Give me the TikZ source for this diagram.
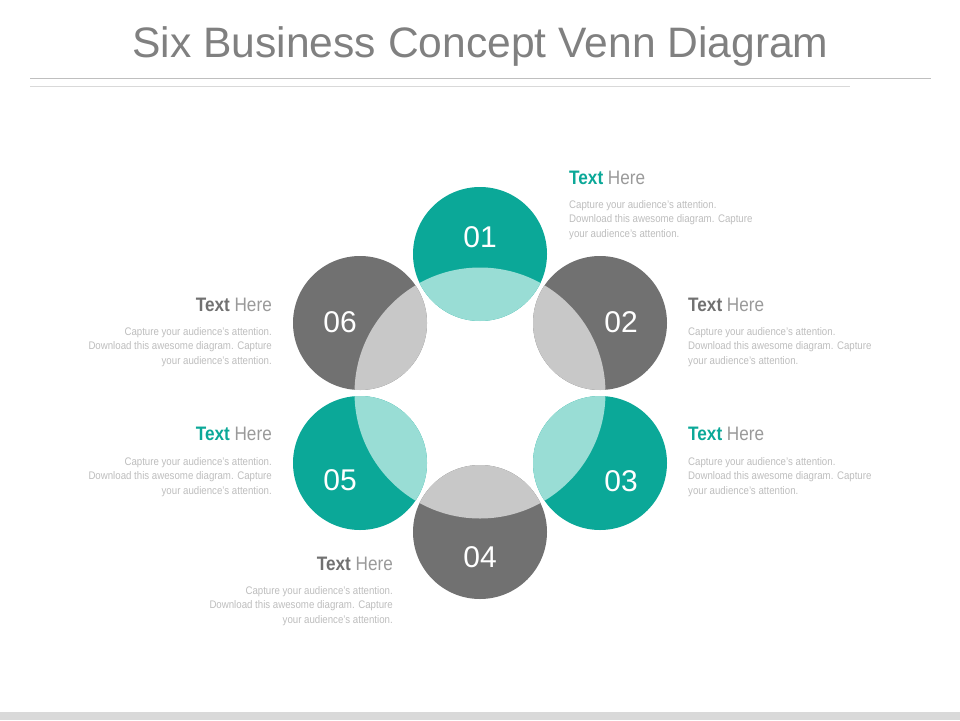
\documentclass[tikz,border=0pt]{standalone}
\usepackage{fontspec}
\setmainfont{Liberation Sans}
\definecolor{tealc}{HTML}{0BA898}
\definecolor{ltealc}{HTML}{99DDD5}
\definecolor{dgrayc}{HTML}{717171}
\definecolor{lgrayc}{HTML}{C8C8C8}
\definecolor{titlec}{HTML}{808080}
\definecolor{herec}{HTML}{9A9A9A}
\definecolor{bodyc}{HTML}{BDBDBD}
\definecolor{rule1c}{HTML}{BFBFBF}
\definecolor{rule2c}{HTML}{D9D9D9}
\tikzset{
  hd/.style={font=\fontsize{19.5}{22}\selectfont, text=herec, inner sep=0pt},
  bd/.style={font=\fontsize{11}{13}\selectfont, text=bodyc, inner sep=0pt},
  num/.style={font=\fontsize{30}{34}\selectfont, text=white, inner sep=0pt, anchor=base},
}
\newcommand{\narrow}[1]{\scalebox{0.88}[1]{#1}}
\newcommand{\tblock}[5]{%
  \node[hd, anchor=base #4] (#1h) at (#2,#3) {\narrow{{\bfseries\color{#5}Text} Here}};
  \node[bd, anchor=base #4] (#1a) at (#2,#3+24.3) {\narrow{Capture your audience's attention.}};
  \node[bd, anchor=base #4] (#1b) at (#2,#3+38.8) {\narrow{Download this awesome diagram. Capture}};
  \node[bd, anchor=base #4] (#1c) at (#2,#3+53.3) {\narrow{your audience's attention.}};
}
\begin{document}
\begin{tikzpicture}[x=1pt,y=-1pt]
\useasboundingbox (0,0) rectangle (960,720);
% title
\node[font=\fontsize{42.6}{50}\selectfont, text=titlec, anchor=base, inner sep=0pt] (title) at (480.5,57.7) {Six Business Concept Venn Diagram};
\draw[rule1c, line width=1pt] (30,78.3) -- (931,78.3);
\draw[rule2c, line width=1pt] (30,86) -- (850,86);
% bottom band
\fill[rule2c] (0,712) rectangle (960,720);
% circles
\foreach \x/\y/\dk/\lt in {480/254/tealc/ltealc, 600/323/dgrayc/lgrayc, 600/463/tealc/ltealc, 480/532/dgrayc/lgrayc, 360/463/tealc/ltealc, 360/323/dgrayc/lgrayc}{
  \begin{scope}
    \fill[\dk] (\x,\y) circle (67);
    \clip (\x,\y) circle (67);
    \fill[\lt] (480,393) circle (125.5);
  \end{scope}
}
% numbers
\node[num] (n01) at (480,247) {01};
\node[num] (n02) at (621,332) {02};
\node[num] (n03) at (621,491) {03};
\node[num] (n04) at (480,567) {04};
\node[num] (n05) at (340,490) {05};
\node[num] (n06) at (340,332) {06};
% text blocks
\tblock{t1}{569}{184}{west}{tealc}
\tblock{t2}{688}{311}{west}{dgrayc}
\tblock{t3}{688}{440.7}{west}{tealc}
\tblock{t4}{393}{570}{east}{dgrayc}
\tblock{t5}{272}{440.7}{east}{tealc}
\tblock{t6}{272}{311}{east}{dgrayc}
\end{tikzpicture}
\end{document}
